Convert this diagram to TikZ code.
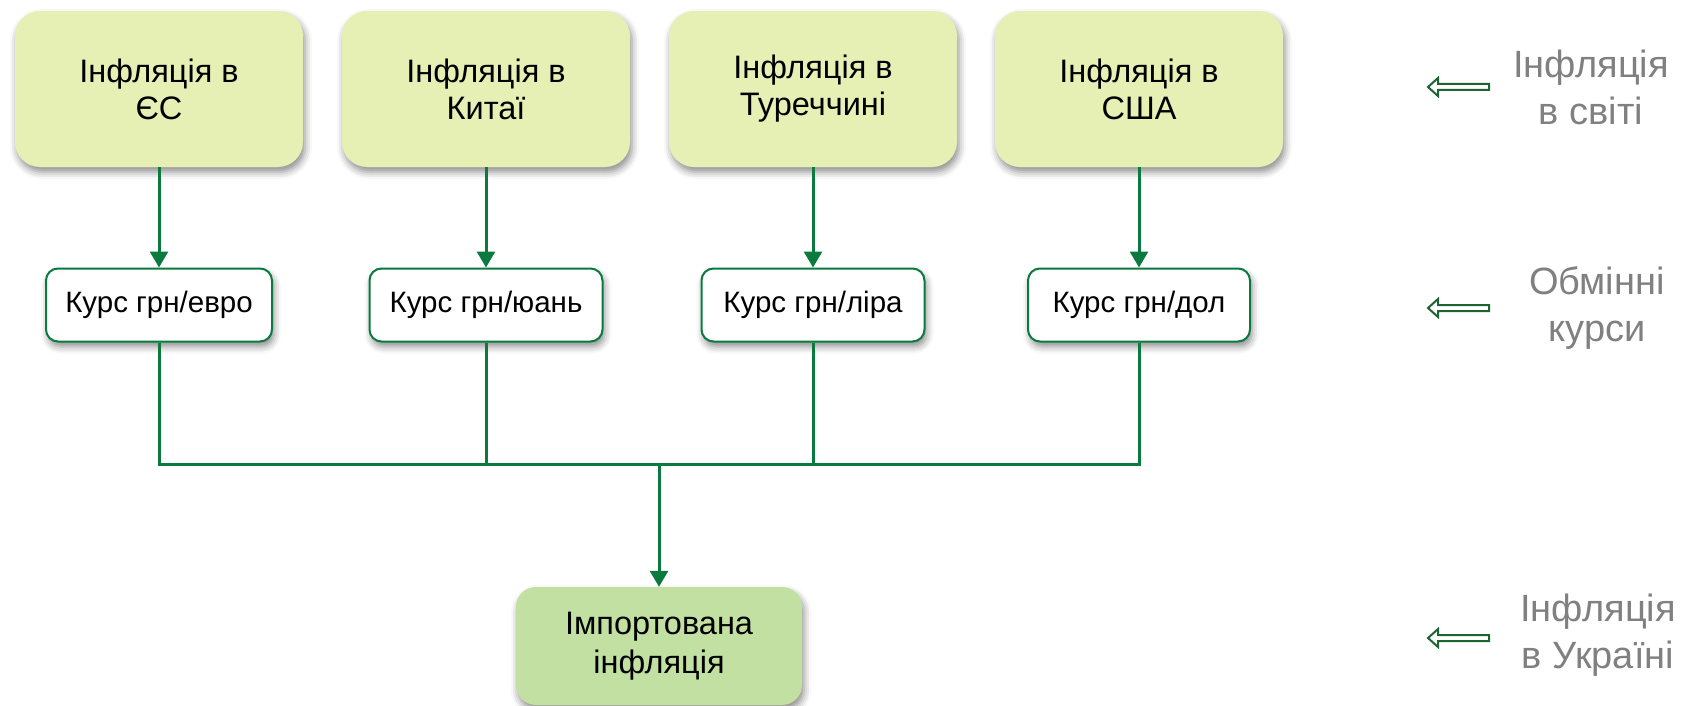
\documentclass[tikz,border=0pt]{standalone}
\usepackage{fontspec}
\setmainfont{Liberation Sans}
\usetikzlibrary{arrows.meta,shadows.blur}
\definecolor{topfill}{HTML}{E6F0B4}
\definecolor{botfill}{HTML}{C2E0A2}
\definecolor{lnk}{HTML}{0B7A3E}
\definecolor{darr}{HTML}{1E6433}
\definecolor{lbl}{HTML}{808080}
\tikzset{
  shd/.style={blur shadow={shadow xshift=2pt,shadow yshift=-5pt,shadow blur radius=7pt,shadow opacity=45}},
  topbox/.style={shd,fill=topfill,rounded corners=25pt,minimum width=288pt,minimum height=156pt,align=center,font=\fontsize{32.5}{37}\selectfont,inner sep=0pt},
  ratebox/.style={shd,draw=lnk,line width=2pt,fill=white,rounded corners=12pt,minimum height=73pt,font=\fontsize{29.5}{34}\selectfont,inner sep=0pt},
  botbox/.style={shd,fill=botfill,rounded corners=20pt,minimum width=286pt,minimum height=118pt,align=center,font=\fontsize{32.5}{39}\selectfont,inner sep=0pt},
  link/.style={draw=lnk,line width=3pt},
  arr/.style={link,-{Triangle[width=18pt,length=16pt]}},
  sidelbl/.style={text=lbl,align=center,font=\fontsize{38}{47}\selectfont,inner sep=0pt},
  hollow/.style={draw=darr,line width=2pt,fill=white,line join=miter}
}
\begin{document}
\begin{tikzpicture}[x=1pt,y=-1pt]
\useasboundingbox (0,0) rectangle (1686,706);
% top boxes
\node[topbox] (t1) at (159,89) {Інфляція в\\ЄС};
\node[topbox] (t2) at (486,89) {Інфляція в\\Китаї};
\node[topbox] (t3) at (813,89) {Інфляція в\\Туреччині};
\node[topbox] (t4) at (1139,89) {Інфляція в\\США};
% rate boxes
\node[ratebox,minimum width=226pt] (r1) at (159,305) {Курс грн/евро};
\node[ratebox,minimum width=233pt] (r2) at (486,305) {Курс грн/юань};
\node[ratebox,minimum width=223pt] (r3) at (813,305) {Курс грн/ліра};
\node[ratebox,minimum width=222pt] (r4) at (1139,305) {Курс грн/дол};
% bottom box
\node[botbox] (b) at (659,646) {Імпортована\\інфляція};
% connectors
\draw[arr] (t1.south) -- (r1.north);
\draw[arr] (t2.south) -- (r2.north);
\draw[arr] (t3.south) -- (r3.north);
\draw[arr] (t4.south) -- (r4.north);
\coordinate (j) at (659,464);
\draw[link] (r1.south) |- (j);
\draw[link] (r2.south) |- (j);
\draw[link] (r3.south) |- (j);
\draw[link] (r4.south) |- (j);
\draw[arr] (j) -- (b.north);
% side labels
\node[sidelbl] (l1) at (1591,87) {Інфляція\\в світі};
\node[sidelbl] (l2) at (1597,308) {Обмінні\\курси};
\node[sidelbl] (l3) at (1598,635) {Інфляція\\в Україні};
\foreach \yy in {87,308,638}{
  \draw[hollow] (1428,\yy) -- (1438,\yy-9) -- (1438,\yy-3) -- (1489,\yy-3) -- (1489,\yy+3) -- (1438,\yy+3) -- (1438,\yy+9) -- cycle;
}
\end{tikzpicture}
\end{document}
